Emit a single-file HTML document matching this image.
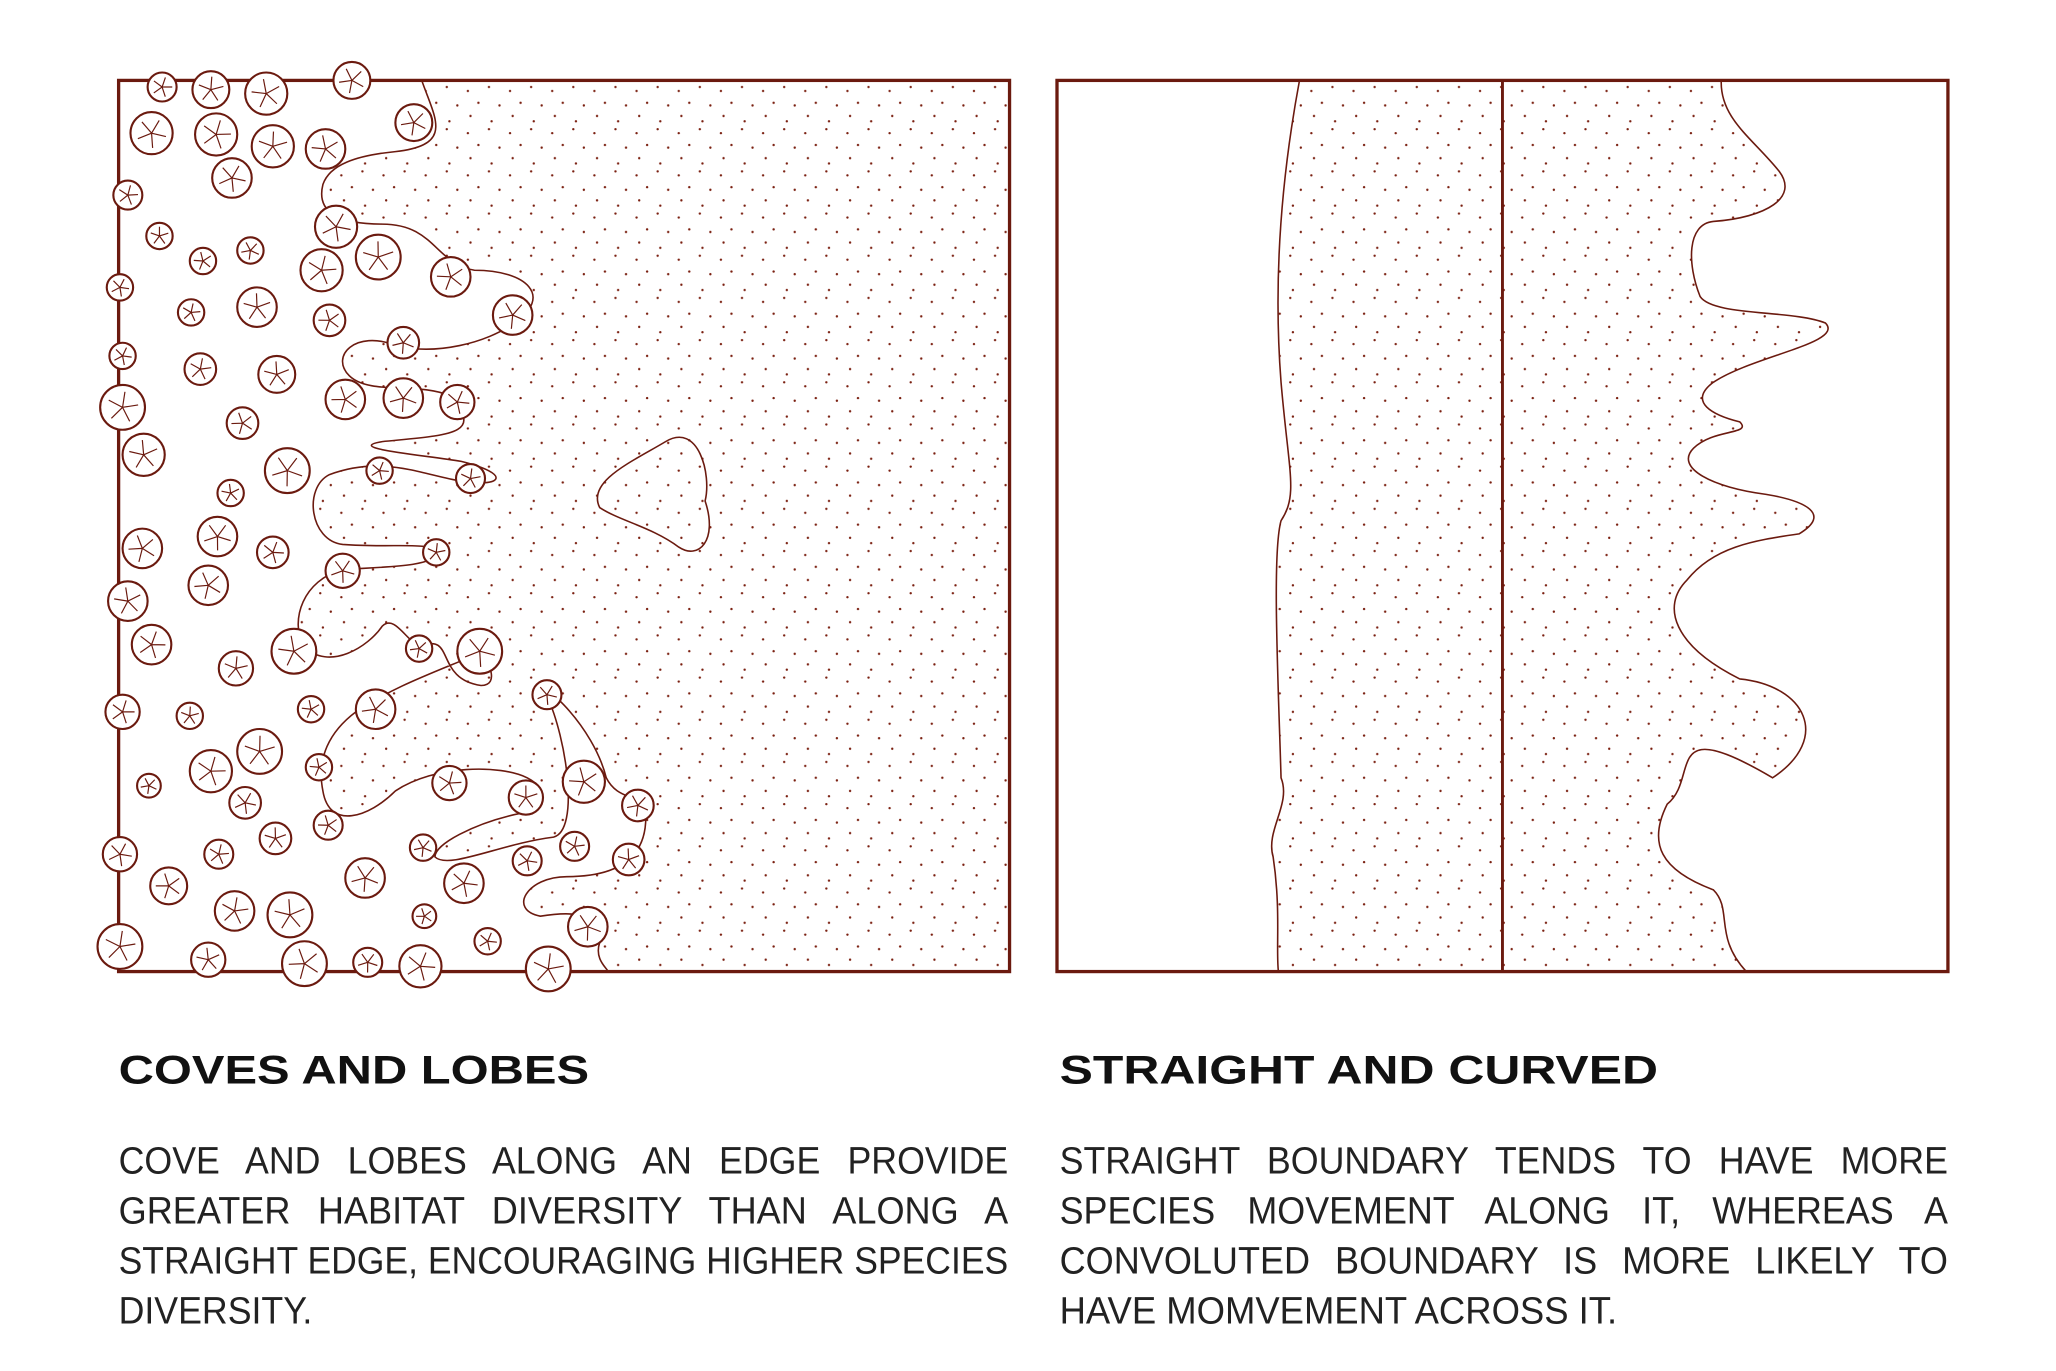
<!DOCTYPE html>
<html><head><meta charset="utf-8"><style>
html,body{margin:0;padding:0;background:#fff;}
body{width:2056px;height:1371px;position:relative;overflow:hidden;}
svg{position:absolute;left:0;top:0;}
</style></head><body>
<svg width="2056" height="1371" viewBox="0 0 1560 1040" preserveAspectRatio="none">
<defs>
<pattern id="dots" width="32" height="32" patternUnits="userSpaceOnUse">
<circle cx="3" cy="5" r="0.9" fill="#7a1f10"/><circle cx="19" cy="2" r="0.9" fill="#7a1f10"/>
<circle cx="11" cy="14" r="0.9" fill="#7a1f10"/><circle cx="27" cy="16" r="0.9" fill="#7a1f10"/>
<circle cx="5" cy="24" r="0.9" fill="#7a1f10"/><circle cx="21" cy="28" r="0.9" fill="#7a1f10"/>
</pattern>
<clipPath id="lb"><rect x="90" y="61" width="676" height="676"/></clipPath>
</defs>
<g fill="none" stroke="#6b1a0f">
<path clip-path="url(#lb)" fill="url(#dots)" stroke="#6b1a0f" stroke-width="1.2"
 d="M320,61 C330,90 345,110 300,115 C270,118 250,125 245,140 C240,160 255,170 290,170 C330,170 330,200 360,205 C400,205 420,225 390,245 C370,260 330,270 300,262 C270,250 250,270 265,285 C280,300 320,290 340,300 C370,330 340,330 290,335 C260,340 320,345 350,350 C390,360 380,370 350,365 C320,360 290,345 250,360 C230,370 235,410 260,413 C300,416 330,410 330,420 C330,430 290,430 260,432 C230,440 220,470 230,490 C250,510 280,490 290,475 C300,465 310,490 320,490 C345,480 330,515 365,520 C380,520 370,500 365,495 C330,510 300,520 270,540 C250,555 240,575 245,600 C250,630 280,620 300,600 C330,580 380,580 400,590 C420,600 410,615 390,618 C360,625 330,640 330,650 C340,660 380,640 420,635 C440,630 430,560 415,528 C410,515 450,550 460,590 C470,610 490,600 490,620 C490,650 470,665 430,665 C400,665 385,690 410,695 C440,690 460,695 455,715 C450,730 465,737 460,737 L766,737 L766,61 Z"/>
<path stroke-width="1.2" d="M455,385 C445,365 480,350 505,335 C530,320 540,360 535,380 C545,410 530,425 515,415 C495,400 470,395 455,385 Z"/>
<rect x="90" y="61" width="676" height="676" stroke-width="2.5"/>
<path fill="url(#dots)" stroke-width="1.2"
 d="M986,61 C975,120 965,200 972,290 C978,360 985,375 972,395 C965,420 970,520 972,590 C980,610 960,630 966,650 C972,690 968,720 970,737 L1325,737 C1300,710 1315,690 1300,675 C1260,660 1250,640 1265,610 C1290,590 1260,540 1345,590 C1390,560 1370,520 1320,515 C1270,490 1260,460 1280,440 C1300,415 1330,410 1365,405 C1390,390 1370,380 1340,375 C1300,370 1270,355 1285,340 C1300,325 1330,330 1320,320 C1300,315 1280,305 1300,290 C1330,270 1400,260 1385,245 C1360,235 1300,240 1290,225 C1280,200 1280,170 1300,168 C1340,165 1365,150 1350,130 C1330,105 1305,90 1306,61 Z"/>
<line x1="1140" y1="61" x2="1140" y2="737" stroke-width="2.2"/>
<rect x="802" y="61" width="676" height="676" stroke-width="2.5"/>
<g id="trees" stroke-width="1.6"></g>
</g>
<g font-family="'Liberation Sans',sans-serif" fill="#111">
<text x="90" y="822" textLength="357" lengthAdjust="spacingAndGlyphs" font-weight="bold" font-size="30">COVES AND LOBES</text>
<text x="804" y="822" textLength="454" lengthAdjust="spacingAndGlyphs" font-weight="bold" font-size="30">STRAIGHT AND CURVED</text>
</g>
<g font-family="'Liberation Sans',sans-serif" font-size="29" fill="#222" lengthAdjust="spacingAndGlyphs">
<text x="90" y="890" textLength="675" lengthAdjust="spacingAndGlyphs" word-spacing="14">COVE AND LOBES ALONG AN EDGE PROVIDE</text>
<text x="90" y="928" textLength="675" lengthAdjust="spacingAndGlyphs" word-spacing="14">GREATER HABITAT DIVERSITY THAN ALONG A</text>
<text x="90" y="966" textLength="675" lengthAdjust="spacingAndGlyphs">STRAIGHT EDGE, ENCOURAGING HIGHER SPECIES</text>
<text x="90" y="1004" textLength="147" lengthAdjust="spacingAndGlyphs">DIVERSITY.</text>
</g>
<g font-family="'Liberation Sans',sans-serif" font-size="29" fill="#222">
<text x="804" y="890" textLength="674" lengthAdjust="spacingAndGlyphs" word-spacing="14">STRAIGHT BOUNDARY TENDS TO HAVE MORE</text>
<text x="804" y="928" textLength="674" lengthAdjust="spacingAndGlyphs" word-spacing="18">SPECIES MOVEMENT ALONG IT, WHEREAS A</text>
<text x="804" y="966" textLength="674" lengthAdjust="spacingAndGlyphs" word-spacing="12">CONVOLUTED BOUNDARY IS MORE LIKELY TO</text>
<text x="804" y="1004" textLength="423" lengthAdjust="spacingAndGlyphs">HAVE MOMVEMENT ACROSS IT.</text>
</g>
</svg>
<script>
const treeX=[123,160,202,267,115,164,207,247,314,176,97,121,154,190,255,244,287,342,389,91,145,195,250,306,93,152,210,262,306,347,93,109,184,218,288,357,175,108,165,207,331,97,158,260,115,179,223,318,364,93,144,236,285,415,160,197,242,113,186,341,399,443,484,91,166,209,249,321,400,436,477,128,277,352,178,220,322,446,370,91,158,231,279,319,416];
const treeY=[66,68,71,61,101,102,111,113,93,135,148,179,198,190,172,205,195,210,239,218,237,233,243,260,270,280,284,303,302,305,309,345,321,357,357,363,374,416,407,419,419,456,444,433,489,507,494,492,494,540,543,538,538,527,585,570,582,596,609,594,605,593,611,648,648,636,626,643,653,642,652,672,666,670,691,694,695,703,714,718,728,731,730,733,735];
const treeR=[11,14,16,14,16,16,16,15,14,15,11,10,10,10,16,16,17,15,15,10,10,15,12,12,10,12,14,15,15,13,17,16,12,17,10,11,10,15,15,12,10,15,15,13,15,13,17,10,17,13,10,10,15,11,16,17,10,9,12,13,13,16,12,13,11,12,11,10,11,11,12,14,15,15,15,17,9,15,10,17,13,17,11,16,17];
const g=document.getElementById('trees');
const NS='http://www.w3.org/2000/svg';
treeX.forEach((x,i)=>{
  const y=treeY[i], r=treeR[i];
  const c=document.createElementNS(NS,'circle');
  
  
  c.setAttribute('cx',x);c.setAttribute('cy',y);c.setAttribute('r',r);
  c.setAttribute('fill','#fff');
  g.appendChild(c);
  const p=document.createElementNS(NS,'path');
  
  
  p.setAttribute('stroke-width','0.9');
  let d='';
  for(let k=0;k<5;k++){const a=k*1.26+i;d+=`M${x},${y} L${(x+Math.cos(a)*r*0.7).toFixed(1)},${(y+Math.sin(a)*r*0.7).toFixed(1)} `;}
  p.setAttribute('d',d);
  g.appendChild(p);
});
</script>
</body></html>
